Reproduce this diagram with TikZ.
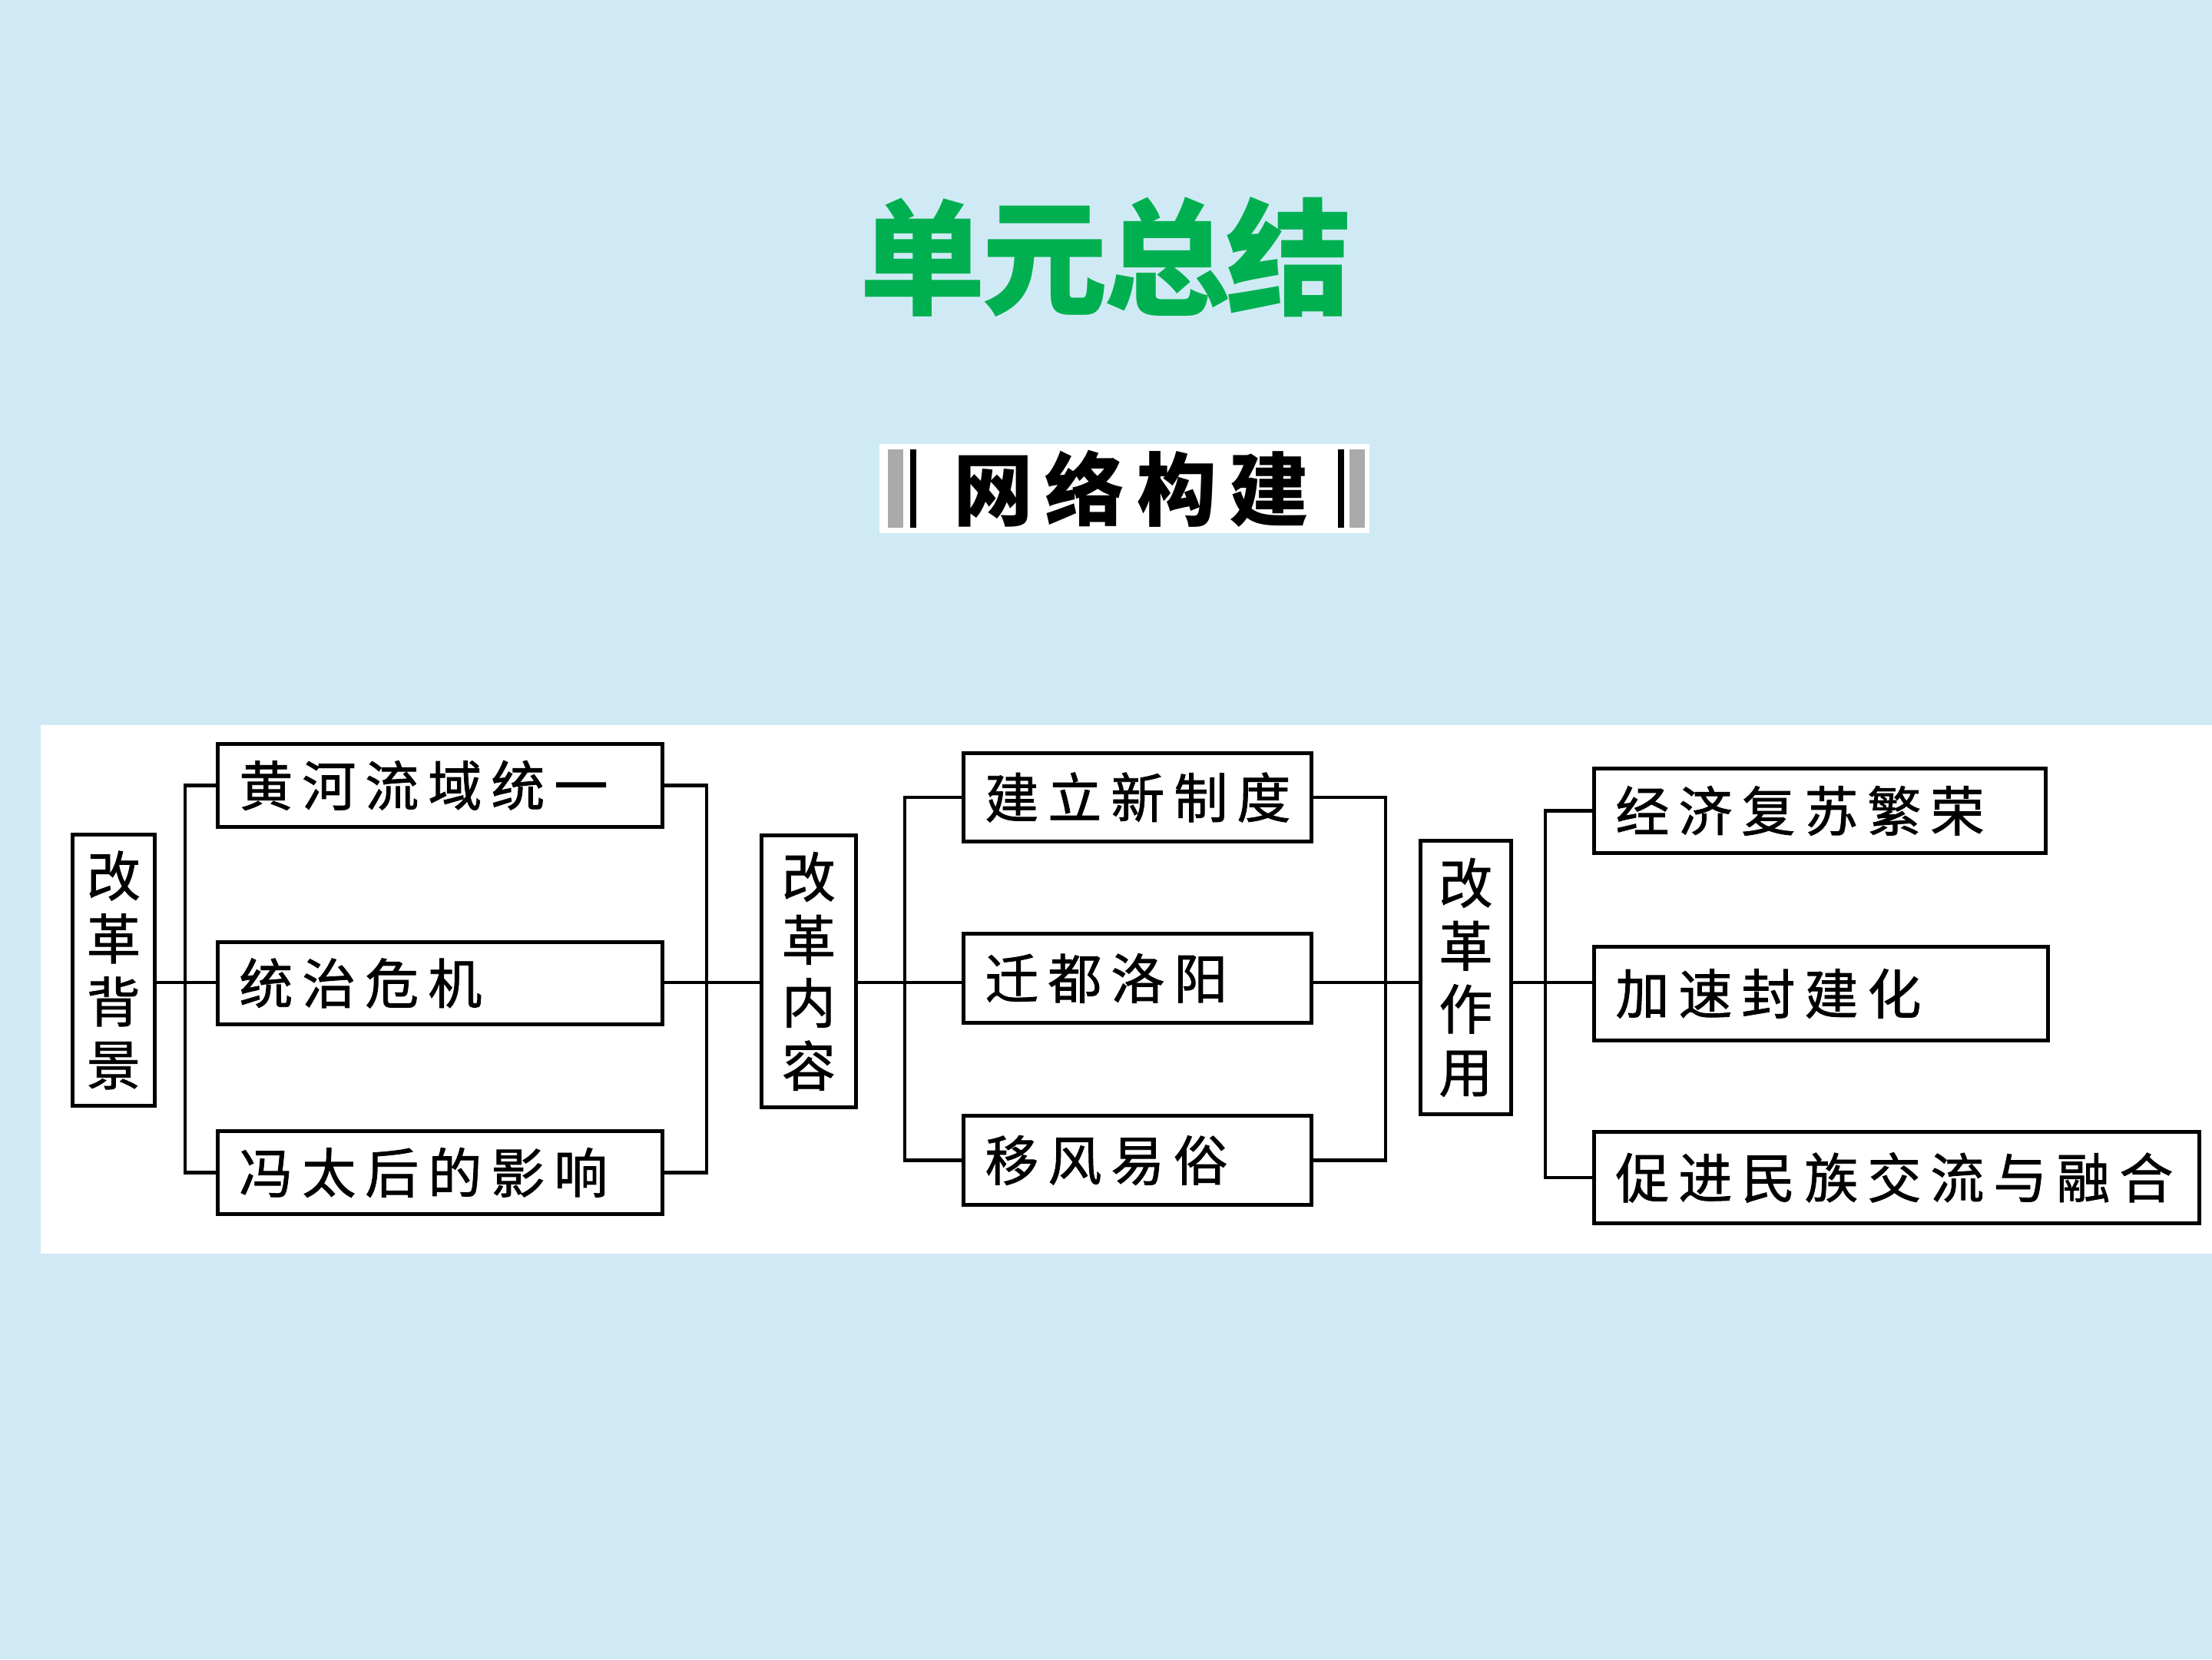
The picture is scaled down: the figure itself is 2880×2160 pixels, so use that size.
\documentclass[tikz,border=0pt]{standalone}
\usepackage{fontspec}
\newfontfamily\cjk{Noto Sans CJK SC}
\newfontfamily\cjkfb{Noto Sans CJK SC}[FakeBold=1.2]
\definecolor{bgblue}{RGB}{208,234,245}
\definecolor{titlegreen}{RGB}{0,176,80}
\definecolor{bargrey}{RGB}{170,170,170}
\newcommand\boxfnt{\cjkfb\fontsize{35pt}{41pt}\selectfont}
\newcommand\titlefnt{\cjk\bfseries\fontsize{82pt}{90pt}\selectfont}
\newcommand\subfnt{\cjk\bfseries\fontsize{52pt}{60pt}\selectfont}
\makeatletter
\newcommand\lsp[2]{\def\lsp@k{#1}\lsp@a#2\@nil}
\def\lsp@a#1#2{#1\ifx#2\@nil\else\kern\lsp@k\relax\expandafter\lsp@a\expandafter#2\fi}
\makeatother
\begin{document}
\begin{tikzpicture}[x=0.5pt,y=-0.5pt,
  hbox/.style={draw=black, line width=2.4pt, fill=white, anchor=north west,
    inner xsep=14pt, inner ysep=0pt, align=left, font=\boxfnt},
  vbox/.style={draw=black, line width=2.4pt, fill=white, anchor=north west,
    inner sep=0pt, align=center, font=\boxfnt},
  conn/.style={draw=black, line width=2.1pt}]
\useasboundingbox (0,0) rectangle (2880,2160);
\fill[bgblue] (0,0) rectangle (2880,2160);
% title
\node[font=\titlefnt, text=titlegreen] (title) at (1440,335) {\lsp{-2.5pt}{单元总结}};
% subtitle banner
\fill[white] (1145,578) rectangle (1783,694);
\fill[bargrey] (1156,585) rectangle (1176,687);
\fill[black] (1185,585) rectangle (1193,687);
\fill[black] (1742,585) rectangle (1750,687);
\fill[bargrey] (1757,585) rectangle (1777,687);
\node[font=\subfnt] (sub) at (1473,636) {\lsp{8pt}{网络构建}};
% panel
\fill[white] (53,944) rectangle (2880,1632);
% boxes
\node[vbox, minimum width=53.5pt, minimum height=176.5pt] (A) at (92,1084) {改\\革\\背\\景};
\node[hbox, minimum width=289.5pt, minimum height=54pt, text width=261.5pt] (B1) at (281,966) {\lsp{6pt}{黄河流域统一}};
\node[hbox, minimum width=289.5pt, minimum height=53.5pt, text width=261.5pt] (B2) at (281,1224) {\lsp{6pt}{统治危机}};
\node[hbox, minimum width=289.5pt, minimum height=54pt, text width=261.5pt] (B3) at (281,1470) {\lsp{6pt}{冯太后的影响}};
\node[vbox, minimum width=61.5pt, minimum height=177pt] (C) at (989,1085) {改\\革\\内\\容};
\node[hbox, minimum width=226.5pt, minimum height=57.5pt, text width=198.5pt] (D1) at (1252,978) {\lsp{6pt}{建立新制度}};
\node[hbox, minimum width=226.5pt, minimum height=58pt, text width=198.5pt] (D2) at (1252,1213) {\lsp{6pt}{迁都洛阳}};
\node[hbox, minimum width=226.5pt, minimum height=58pt, text width=198.5pt] (D3) at (1252,1450) {\lsp{6pt}{移风易俗}};
\node[vbox, minimum width=59pt, minimum height=178pt] (E) at (1847,1092) {改\\革\\作\\用};
\node[hbox, minimum width=294pt, minimum height=55pt, text width=266pt] (F1) at (2073,998) {\lsp{6pt}{经济复苏繁荣}};
\node[hbox, minimum width=295.5pt, minimum height=61pt, text width=267.5pt] (F2) at (2073,1230) {\lsp{6pt}{加速封建化}};
\node[hbox, minimum width=394pt, minimum height=59.5pt, text width=366pt] (F3) at (2073,1471) {\mbox{\lsp{6pt}{促进民族交流与融合}}};
% bus coordinates
\coordinate (spine) at (0,1279);
\coordinate (busA) at (241,0);
\coordinate (busB) at (920,0);
\coordinate (busC) at (1178,0);
\coordinate (busD) at (1804,0);
\coordinate (busE) at (2012,0);
% connectors
\draw[conn] (A.east |- spine) -- (B2.west |- spine);
\draw[conn] (B1.west) -- (B1.west -| busA) |- (B3.west);
\draw[conn] (B1.east) -- (B1.east -| busB) |- (B3.east);
\draw[conn] (B2.east |- spine) -- (C.west |- spine);
\draw[conn] (C.east |- spine) -- (D2.west |- spine);
\draw[conn] (D1.west) -- (D1.west -| busC) |- (D3.west);
\draw[conn] (D1.east) -- (D1.east -| busD) |- (D3.east);
\draw[conn] (D2.east |- spine) -- (E.west |- spine);
\draw[conn] (E.east |- spine) -- (F2.west |- spine);
\draw[conn] (F1.west) -- (F1.west -| busE) |- (F3.west);
\end{tikzpicture}
\end{document}
